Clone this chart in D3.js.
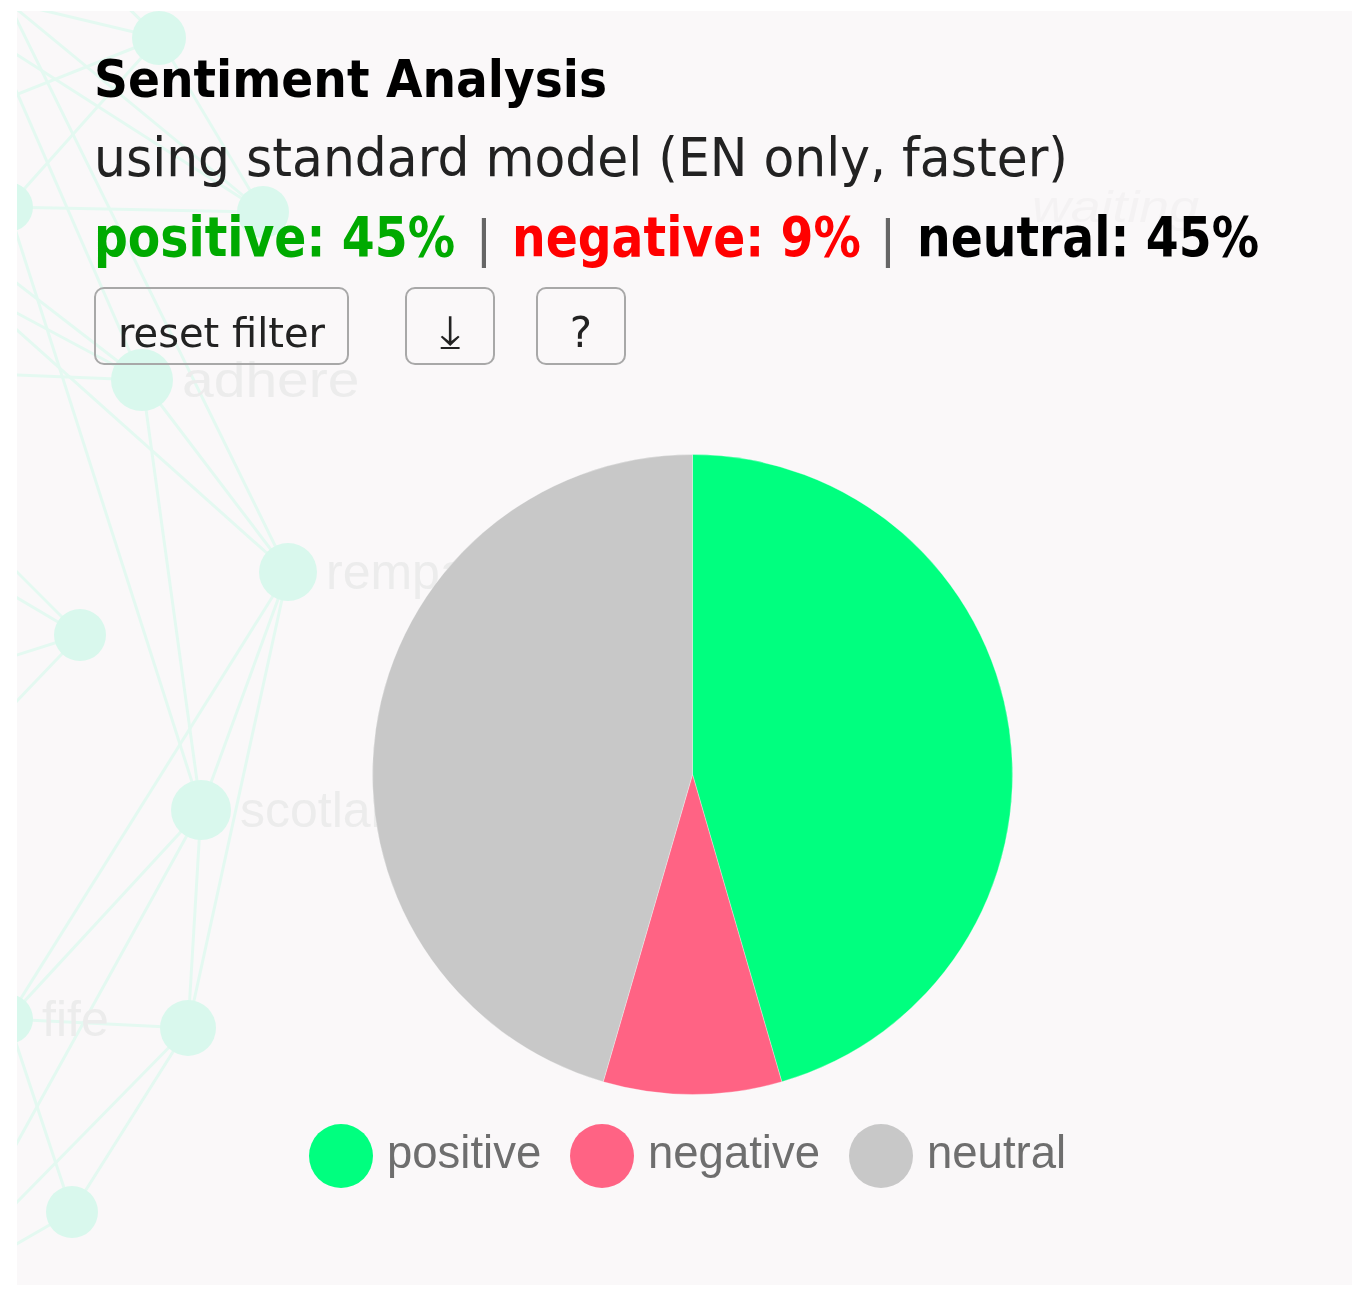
<!DOCTYPE html>
<html>
<head>
<meta charset="utf-8">
<title>Sentiment Analysis</title>
<script src="https://cdn.jsdelivr.net/npm/d3@7.9.0/dist/d3.min.js"></script>
<style>
  html, body { margin: 0; background: #fff; }
  svg { display: block; filter: blur(0.6px); }
  text { font-family: "DejaVu Sans", sans-serif; }
  .faint, .legend-label { font-family: "Liberation Sans", sans-serif; }
</style>
</head>
<body>
<svg id="chart" width="1364" height="1297"></svg>
<script>
// pie values
const categories = ['positive', 'negative', 'neutral'];
const shares = [45.5, 9, 45.5];
const pieColors = ['#00ff7f', '#ff6384', '#c8c8c8'];

// summary line
const summaryLabels = ['positive: 45%', 'negative: 9%', 'neutral: 45%'];

// faded word graph behind the chart, nodes m to j2 sit outside the panel
const nodeIds = ['a', 'b', 'c', 'd', 'e', 'f', 'g', 'h', 'i', 'j',
  'm', 'n', 'o', 'q', 'r', 's', 't', 'u', 'v', 'x', 'y', 'z', 'h2', 'j2'];
const nodeXs = [159, 8, 263, 142, 288, 80, 201, 188, 8, 72,
  8, -10, -6, -30, -30, -30, 115, -30, -30, -30, -30, -30, -30, -30];
const nodeYs = [38, 207, 212, 380, 572, 635, 810, 1028, 1019, 1212,
  2, 105, 40, 247, 288, 373, -5, 525, 570, 670, 750, 1228, 1250, 1271];
const nodeSizes = [27, 25, 26, 31, 29, 26, 30, 28, 25, 26];
const nodeWords = ['', '', '', 'adhere', 'rempart', '', 'scotland', '', 'fife', ''];
const wordStretch = [1, 1, 1, 1.14, 1, 1, 1, 1, 1, 1];
const linkPairs = [
  ['a', 'b'], ['a', 'c'], ['b', 'c'], ['b', 'g'], ['d', 'e'], ['d', 'g'],
  ['e', 'g'], ['e', 'h'], ['e', 'i'], ['g', 'h'], ['g', 'i'], ['h', 'i'],
  ['h', 'j'], ['i', 'j'], ['m', 'a'], ['m', 'c'], ['m', 'e'], ['n', 'a'],
  ['o', 'c'], ['o', 'd'], ['q', 'd'], ['r', 'd'], ['r', 'e'], ['s', 'd'],
  ['t', 'a'], ['u', 'f'], ['v', 'f'], ['x', 'f'], ['y', 'f'], ['z', 'g'],
  ['h2', 'h'], ['j2', 'j']
];

const svg = d3.select('#chart');

svg.append('defs').append('clipPath').attr('id', 'panel-clip')
  .append('rect').attr('x', 17).attr('y', 11).attr('width', 1335).attr('height', 1274);

const panel = svg.append('g').attr('clip-path', 'url(#panel-clip)');
panel.append('rect')
  .attr('x', 17).attr('y', 11).attr('width', 1335).attr('height', 1274)
  .attr('fill', '#faf8f9');

// background graph
const nodeById = new Map(nodeIds.map((id, i) => [id, i]));
const graph = panel.append('g');

graph.selectAll('line')
  .data(linkPairs)
  .join('line')
  .attr('x1', (d) => nodeXs[nodeById.get(d[0])])
  .attr('y1', (d) => nodeYs[nodeById.get(d[0])])
  .attr('x2', (d) => nodeXs[nodeById.get(d[1])])
  .attr('y2', (d) => nodeYs[nodeById.get(d[1])])
  .attr('stroke', '#e4f9f1')
  .attr('stroke-width', 3);

graph.selectAll('circle')
  .data(nodeSizes)
  .join('circle')
  .attr('cx', (_, i) => nodeXs[i])
  .attr('cy', (_, i) => nodeYs[i])
  .attr('r', (d) => d)
  .attr('fill', '#d9f8ed');

graph.selectAll('text')
  .data(nodeWords)
  .join('text')
  .attr('class', 'faint')
  .attr('transform', (_, i) =>
    `translate(${nodeXs[i] + nodeSizes[i] + 9},${nodeYs[i] + 17}) scale(${wordStretch[i]},1)`)
  .attr('font-size', 50)
  .attr('fill', '#ececec')
  .text((d) => d);

panel.append('text')
  .attr('class', 'faint')
  .attr('transform', 'translate(1032,222) scale(1.22,1)')
  .attr('font-size', 44)
  .attr('font-style', 'italic')
  .attr('fill', '#f4f2f3')
  .text('waiting');

// heading
panel.append('text')
  .attr('x', 94).attr('y', 97)
  .attr('font-size', 52).attr('font-weight', 700)
  .attr('fill', '#000')
  .attr('textLength', 513).attr('lengthAdjust', 'spacingAndGlyphs')
  .text('Sentiment Analysis');

panel.append('text')
  .attr('x', 94).attr('y', 176)
  .attr('font-size', 53).attr('font-weight', 400)
  .attr('fill', '#222')
  .attr('textLength', 974).attr('lengthAdjust', 'spacingAndGlyphs')
  .text('using standard model (EN only, faster)');

// summary line, stretched upward since the source glyphs are tall and narrow
const summaryColors = ['#00aa00', '#ff0000', '#000'];
const summaryStarts = [94, 512, 917];

panel.append('g').selectAll('text')
  .data(summaryLabels)
  .join('text')
  .attr('transform', (_, i) => `translate(${summaryStarts[i]},256) scale(1,1.16)`)
  .attr('font-size', 47.3).attr('font-weight', 700)
  .attr('fill', (_, i) => summaryColors[i])
  .text((d) => d);

panel.append('g').selectAll('text')
  .data([484, 888])
  .join('text')
  .attr('x', (d) => d)
  .attr('y', 256)
  .attr('text-anchor', 'middle')
  .attr('font-size', 50)
  .attr('fill', '#666')
  .text('|');

// buttons
const buttonLabels = ['reset filter', '⤓', '?'];
const buttonLefts = [95, 406, 537];
const buttonWidths = [253, 88, 88];
const buttonFontSizes = [40, 46, 42];

const buttons = panel.append('g').selectAll('g')
  .data(buttonLabels)
  .join('g')
  .attr('transform', (_, i) => `translate(${buttonLefts[i]},288)`);

buttons.append('rect')
  .attr('width', (_, i) => buttonWidths[i])
  .attr('height', 76)
  .attr('rx', 9)
  .attr('fill', 'none')
  .attr('stroke', '#a8a8a8')
  .attr('stroke-width', 2);

buttons.append('text')
  .attr('x', (_, i) => buttonWidths[i] / 2)
  .attr('y', 59)
  .attr('text-anchor', 'middle')
  .attr('font-size', (_, i) => buttonFontSizes[i])
  .attr('fill', '#222')
  .text((d) => d);

// pie
const pieGenerator = d3.pie().sort(null).value((d) => d);
const arcGenerator = d3.arc().innerRadius(0).outerRadius(320);

panel.append('g')
  .attr('transform', 'translate(692.5,774.5)')
  .selectAll('path')
  .data(pieGenerator(shares))
  .join('path')
  .attr('d', arcGenerator)
  .attr('fill', (_, i) => pieColors[i])
  .attr('stroke', '#fff')
  .attr('stroke-width', 0.3);

// legend
const legendDotXs = [341, 602, 881];

const legend = panel.append('g').selectAll('g')
  .data(categories)
  .join('g')
  .attr('transform', (_, i) => `translate(${legendDotXs[i]},1156)`);

legend.append('circle')
  .attr('r', 32)
  .attr('fill', (_, i) => pieColors[i]);

legend.append('text')
  .attr('class', 'legend-label')
  .attr('x', 46)
  .attr('y', 12)
  .attr('font-size', 45.5)
  .attr('fill', '#6e6e6e')
  .text((d) => d);
</script>
</body>
</html>
